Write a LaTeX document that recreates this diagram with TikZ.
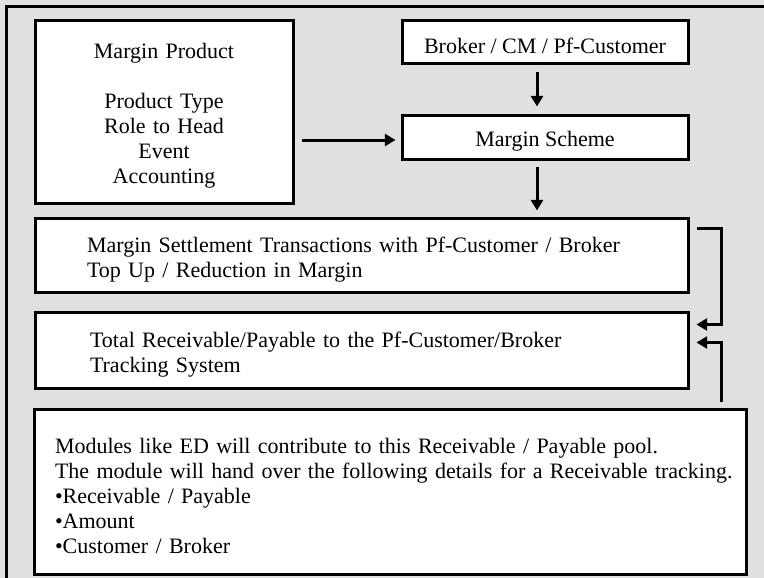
\documentclass[tikz,border=0pt]{standalone}
\usepackage{fontspec}
\setmainfont{Liberation Serif}
\usetikzlibrary{arrows.meta}

\definecolor{granite}{RGB}{224,224,224}
\tikzset{
  box/.style={draw=black,line width=2.25pt,fill=white,inner sep=0pt,
    execute at begin node={\rule{0pt}{18pt}}},
  arr/.style={line width=2.25pt,-{Triangle[length=8pt,width=9pt]}},
  every node/.style={font=\fontsize{16.5pt}{18.75pt}\selectfont}
}

\begin{document}
\begin{tikzpicture}[x=0.75pt,y=-0.75pt]
\useasboundingbox (0,0) rectangle (764,578);
\fill[granite] (0,0) rectangle (764,578);
\draw[line width=2.25pt] (6.5,578)--(6.5,6.5)--(764,6.5);
%\draw[line width=2.25pt] (757.5,6.5)--(757.5,578);
\node[box,minimum height=137.25pt,text width=193.5pt,align=center] (prod) at (164,111.5)
  {Margin Product\\[18.75pt]Product Type\\Role to Head\\Event\\Accounting};
\node[box,minimum width=214.5pt,minimum height=32.25pt] (broker) at (545,41.5) {Broker / CM / Pf-Customer};
\node[box,minimum width=214.5pt,minimum height=33pt] (scheme) at (545,137) {Margin Scheme};
\node[box,minimum height=55.5pt,inner xsep=39pt,text width=411.75pt,align=left] (settle) at (361.5,255)
  {Margin Settlement Transactions with Pf-Customer / Broker\\Top Up / Reduction in Margin};
\node[box,minimum height=57pt,inner xsep=41.25pt,text width=407.25pt,align=left] (total) at (361.5,350)
  {Total Receivable/Payable to the Pf-Customer/Broker\\Tracking System};
\node[box,minimum height=123.75pt,inner xsep=15.75pt,text width=502.5pt,align=left] (modules) at (390,491.5)
  {Modules like ED will contribute to this Receivable / Payable pool.\\
   \mbox{The module will hand over the following details for a Receivable tracking.}\\
   •Receivable / Payable\\
   •Amount\\
   •Customer / Broker};
\draw[arr,shorten <=5.25pt,shorten >=3.75pt] ([yshift=-2.25pt]prod.east |- scheme.west)--([yshift=-2.25pt]scheme.west);
\draw[arr,shorten <=5.25pt,shorten >=5.25pt] ([xshift=-6pt]broker.south)--([xshift=-6pt]scheme.north);
\draw[arr,shorten <=4.5pt,shorten >=4.5pt] ([xshift=-6pt]scheme.south)--([xshift=-6pt]scheme.south |- settle.north);
\draw[arr] ([shift={(7,12)}]settle.north east)--++(25,0) |- ([shift={(7,14)}]total.north east);
\draw[arr] ([shift={(-26,-6)}]modules.north east) |- ([shift={(7,32)}]total.north east);
\end{tikzpicture}
\end{document}
